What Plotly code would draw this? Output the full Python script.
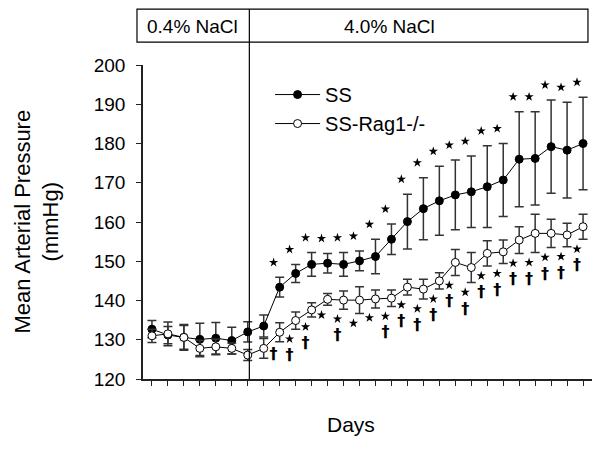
import plotly.graph_objects as go

# ---------------- data ----------------
day_idx = list(range(28))
ss_mean = [132.7, 131.2, 130.6, 130.1, 130.4, 129.8, 132.0, 133.5, 143.4, 146.9,
           149.2, 149.5, 149.2, 150.1, 151.2, 155.6, 160.1, 163.4, 165.4, 166.9,
           167.7, 169.0, 170.7, 176.0, 176.2, 179.2, 178.3, 180.0]
ss_err = [2.2, 2.2, 3.3, 4.1, 4.0, 3.4, 2.6, 2.8, 2.5, 2.3,
          3.0, 2.5, 3.0, 2.5, 4.4, 3.9, 7.0, 7.9, 8.8, 8.9,
          9.1, 10.4, 9.3, 12.1, 11.9, 11.9, 12.2, 11.8]
rag_mean = [131.0, 131.5, 130.6, 127.8, 128.2, 127.8, 126.1, 127.8, 131.9, 134.9,
            137.6, 140.3, 140.1, 140.1, 140.4, 140.6, 143.4, 142.9, 145.0, 149.7,
            148.4, 152.0, 152.4, 155.4, 157.1, 157.1, 156.7, 158.8]
rag_err = [1.7, 3.0, 3.0, 2.1, 2.0, 1.4, 1.4, 2.5, 2.4, 2.2,
           1.8, 1.5, 2.3, 3.4, 2.3, 2.1, 2.0, 2.5, 2.1, 3.3,
           3.8, 3.2, 3.0, 3.4, 4.9, 3.6, 3.0, 3.2]
# significance flags (1 = marked)
ss_star = [0] * 8 + [1] * 20
rag_star = [0] * 9 + [1] * 19
rag_dagger = [0] * 8 + [1, 1, 1, 0, 1, 0, 0, 1] + [1] * 12
salt_phases = ["0.4% NaCl", "4.0% NaCl"]
salt_switch = 6.1
y_ticks = [120, 130, 140, 150, 160, 170, 180, 190, 200]

# ---------------- figure ----------------
TXT = "Liberation Sans, Arial, sans-serif"
fig = go.Figure()

fig.add_trace(go.Scatter(
    x=day_idx, y=ss_mean, name="SS", mode="lines+markers",
    line=dict(color="black", width=1),
    marker=dict(symbol="circle", size=8, color="black", line=dict(color="black", width=1)),
    error_y=dict(type="data", array=ss_err, visible=True, color="#333333", thickness=1.5, width=4.5),
))
fig.add_trace(go.Scatter(
    x=day_idx, y=rag_mean, name="SS-Rag1-/-", mode="lines+markers",
    line=dict(color="black", width=1),
    marker=dict(symbol="circle", size=8, color="white", line=dict(color="black", width=1)),
    error_y=dict(type="data", array=rag_err, visible=True, color="#333333", thickness=1.5, width=4.5),
))

shift = -0.38
# stars above SS
sx = [d + shift for d, f in zip(day_idx, ss_star) if f]
sy = [m + e + 3.8 for m, e, f in zip(ss_mean, ss_err, ss_star) if f]
# stars below SS-Rag1-/-
rx = [d + shift for d, f in zip(day_idx, rag_star) if f]
ry = [m - e - 2.5 for m, e, f in zip(rag_mean, rag_err, rag_star) if f]
fig.add_trace(go.Scatter(
    x=sx + rx, y=sy + ry, mode="markers", showlegend=False, hoverinfo="skip",
    marker=dict(symbol="star", size=7, color="black", line=dict(width=0)),
))
# daggers
dx = [d + shift for d, f in zip(day_idx, rag_dagger) if f]
dy = [m - e - 2.5 - (4.4 if s else 0.8)
      for m, e, s, f in zip(rag_mean, rag_err, rag_star, rag_dagger) if f]
fig.add_trace(go.Scatter(
    x=dx, y=dy, mode="text", text=["†"] * len(dx), showlegend=False, hoverinfo="skip",
    textposition="middle center",
    textfont=dict(family="DejaVu Sans", size=16, color="black", weight="bold"),
))

# top phase box
fig.add_shape(type="rect", xref="paper", yref="paper", x0=-0.0134, x1=0.991,
              y0=1.073, y1=1.178, line=dict(color="black", width=1.2), fillcolor="white", layer="below")
fig.add_shape(type="line", xref="x", yref="paper", x0=salt_switch, x1=salt_switch,
              y0=0, y1=1.178, line=dict(color="black", width=1.2))
fig.add_annotation(text=salt_phases[0], xref="paper", yref="paper", x=0.111, y=1.124,
                   showarrow=False, xanchor="center", yanchor="middle",
                   font=dict(family=TXT, size=19, color="black"))
fig.add_annotation(text=salt_phases[1], xref="paper", yref="paper", x=0.548, y=1.124,
                   showarrow=False, xanchor="center", yanchor="middle",
                   font=dict(family=TXT, size=19, color="black"))
# axis titles
fig.add_annotation(text="Mean Arterial Pressure<br>(mmHg)", xref="paper", yref="paper",
                   x=-0.237, y=0.5, textangle=-90, showarrow=False,
                   xanchor="center", yanchor="middle",
                   font=dict(family=TXT, size=22, color="black"))
fig.add_annotation(text="Days", xref="paper", yref="paper", x=0.463, y=-0.146,
                   showarrow=False, xanchor="center", yanchor="middle",
                   font=dict(family=TXT, size=21, color="black"))

fig.update_layout(
    width=596, height=445,
    margin=dict(l=135, r=12, t=57, b=74),
    paper_bgcolor="white", plot_bgcolor="white",
    font=dict(family=TXT, color="black"),
    legend=dict(x=0.283, y=0.968, xanchor="left", yanchor="top",
                bgcolor="rgba(0,0,0,0)", itemwidth=45,
                font=dict(family=TXT, size=20, color="black")),
)
fig.update_xaxes(range=[-0.56, 27.56], tickvals=day_idx, showticklabels=False,
                 ticks="outside", ticklen=5, tickwidth=1.2, tickcolor="#222",
                 showline=True, linecolor="#222", linewidth=1.5,
                 showgrid=False, zeroline=False)
fig.update_yaxes(range=[120, 200], tickvals=y_ticks,
                 ticks="outside", ticklen=5, tickwidth=1.2, tickcolor="#222",
                 showline=True, linecolor="#222", linewidth=1.5,
                 showgrid=False, zeroline=False, ticklabelstandoff=7,
                 tickfont=dict(family=TXT, size=19, color="black"))

fig.write_html("out.html")
